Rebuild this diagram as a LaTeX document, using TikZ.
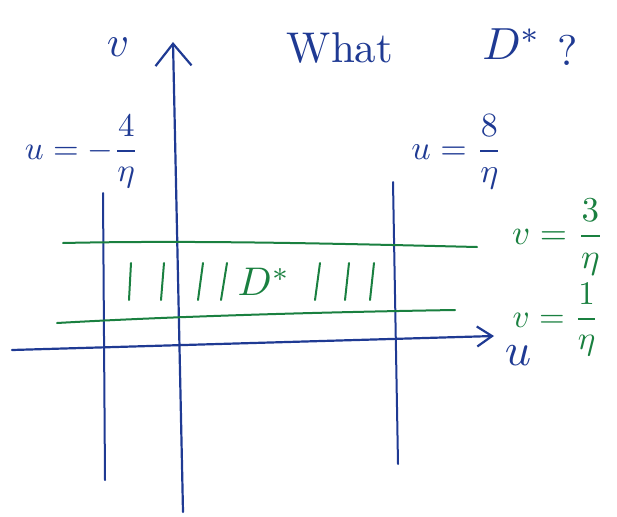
\documentclass[tikz,border=0pt]{standalone}
\usepackage{amsmath}
\usepackage{graphicx}
\usetikzlibrary{arrows.meta}
\definecolor{inkBlue}{HTML}{1F3A93}
\definecolor{inkGreen}{HTML}{1A8040}
\tikzset{
  axis/.style={draw=inkBlue, line width=2.2pt, line cap=round},
  bound/.style={draw=inkBlue, line width=2pt, line cap=round},
  band/.style={draw=inkGreen, line width=2pt, line cap=round},
  hatch/.style={draw=inkGreen, line width=2pt, line cap=round},
  vtip/.style={-{Straight Barb[length=22pt, width=36pt, line width=2.2pt]}},
  utip/.style={-{Straight Barb[length=15pt, width=20pt, line width=2.2pt]}},
  bluetxt/.style={text=inkBlue, inner sep=0pt},
  greentxt/.style={text=inkGreen, inner sep=0pt},
}
\newcommand{\inkscale}[2]{\scalebox{#1}{#2}}

\begin{document}
\begin{tikzpicture}[x=1pt, y=-1pt]
  \useasboundingbox (0,0) rectangle (617,516);

  % ---- axes --------------------------------------------------------------
  \coordinate (vbot) at (183,512);
  \coordinate (vtop) at (173,42);
  \coordinate (ulft) at (12,350);
  \coordinate (urgt) at (494,336);
  \draw[axis, vtip] (vbot) -- (vtop);
  \draw[axis, utip] (ulft) -- (urgt);
  \node[bluetxt] (vlab) at (118,47) {\inkscale{4.3}{$v$}};
  \node[bluetxt] (ulab) at (518,356) {\inkscale{4.6}{$u$}};

  % ---- vertical bounds ---------------------------------------------------
  \draw[bound] (103,193) -- (105,480);
  \draw[bound] (393,182) -- (398,464);
  \node[bluetxt] (uleft) at (82,152) {\inkscale{3.3}{$u=-\dfrac{4}{\eta}$}};
  \node[bluetxt] (uright) at (457,152) {\inkscale{3.4}{$u=\dfrac{8}{\eta}$}};

  % ---- horizontal bounds -------------------------------------------------
  \draw[band] (63,243) .. controls (200,240) and (350,244) .. (477,247);
  \draw[band] (57,323) .. controls (180,316) and (330,312) .. (455,310);
  \node[greentxt] (vtoplab) at (558,237) {\inkscale{3.5}{$v=\dfrac{3}{\eta}$}};
  \node[greentxt] (vbotlab) at (556,320) {\inkscale{3.3}{$v=\dfrac{1}{\eta}$}};

  % ---- the region --------------------------------------------------------
  \foreach \x/\s in {131/-2, 164/-3, 203/-5, 227/-6, 320/-5, 349/-4, 374/-4}
    \draw[hatch] (\x,263) -- (\x+\s,300);
  \node[greentxt] (dstar) at (264,282) {\inkscale{4}{$D^*$}};

  % ---- question ----------------------------------------------------------
  \node[bluetxt] (what) at (340,48) {\inkscale{4.3}{What}};
  \node[bluetxt] (qstar) at (512,44) {\inkscale{4.5}{$D^*$}};
  \node[bluetxt] (qmark) at (568,50) {\inkscale{4.3}{?}};
\end{tikzpicture}
\end{document}
